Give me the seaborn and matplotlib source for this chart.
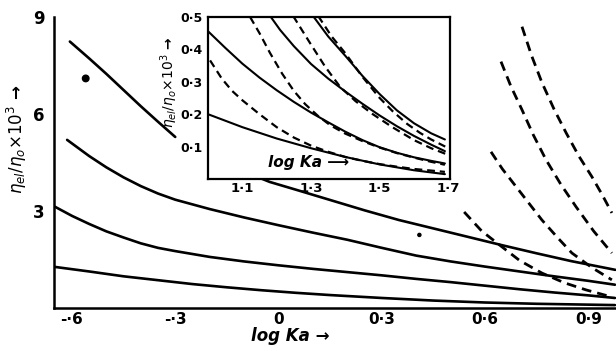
import numpy as np
import pandas as pd
import matplotlib
matplotlib.use('Agg')
import matplotlib.pyplot as plt
import seaborn as sns

sns.set_style('white')
plt.rcParams['font.family'] = ['DejaVu Sans']
plt.rcParams['mathtext.fontset'] = 'dejavusans'
for k in ['text.color', 'axes.labelcolor', 'xtick.color', 'ytick.color']:
    plt.rcParams[k] = 'black'

# ---- main panel: solid curves ----
# top curve is broken where the inset label sits
c1a_x = [-0.606, -0.55, -0.50, -0.45, -0.40, -0.35, -0.30]
c1a_y = [8.24, 7.72, 7.24, 6.74, 6.24, 5.76, 5.29]
c1b_x = [-0.10, -0.026, 0.05, 0.15, 0.25, 0.35, 0.45, 0.55, 0.65, 0.75, 0.85, 0.978]
c1b_y = [4.22, 3.90, 3.66, 3.34, 3.02, 2.72, 2.46, 2.20, 1.94, 1.69, 1.45, 1.18]
c2_x = [-0.614, -0.55, -0.50, -0.45, -0.40, -0.35, -0.30, -0.20, -0.10, 0.0, 0.10,
        0.20, 0.30, 0.40, 0.50, 0.60, 0.70, 0.80, 0.90, 0.977]
c2_y = [5.20, 4.70, 4.35, 4.04, 3.77, 3.54, 3.35, 3.06, 2.80, 2.56, 2.33,
        2.11, 1.86, 1.62, 1.44, 1.28, 1.13, 0.98, 0.84, 0.72]
c3_x = [-0.649, -0.60, -0.55, -0.50, -0.45, -0.40, -0.35, -0.30, -0.20, -0.10, 0.0,
        0.10, 0.20, 0.30, 0.40, 0.50, 0.60, 0.70, 0.80, 0.90, 0.977]
c3_y = [3.13, 2.85, 2.60, 2.37, 2.18, 2.00, 1.86, 1.76, 1.58, 1.44, 1.32,
        1.21, 1.11, 1.01, 0.90, 0.80, 0.69, 0.58, 0.48, 0.39, 0.31]
c4_x = [-0.649, -0.55, -0.45, -0.35, -0.25, -0.15, -0.05, 0.05, 0.15, 0.30, 0.45,
        0.60, 0.75, 0.977]
c4_y = [1.27, 1.13, 0.98, 0.86, 0.74, 0.64, 0.55, 0.47, 0.40, 0.31, 0.23,
        0.17, 0.13, 0.09]

# ---- main panel: dashed curves ----
d1_x = [0.539, 0.59, 0.649, 0.70, 0.765, 0.83, 0.893, 0.968]
d1_y = [2.97, 2.38, 1.89, 1.47, 1.08, 0.78, 0.56, 0.34]
d2_x = [0.617, 0.65, 0.69, 0.73, 0.765, 0.81, 0.852, 0.91, 0.968]
d2_y = [4.83, 4.30, 3.75, 3.20, 2.72, 2.18, 1.70, 1.25, 0.87]
d3_x = [0.646, 0.675, 0.707, 0.74, 0.777, 0.82, 0.864, 0.915, 0.968]
d3_y = [7.62, 6.85, 6.13, 5.35, 4.58, 3.82, 3.13, 2.38, 1.70]
d4_x = [0.707, 0.735, 0.765, 0.80, 0.835, 0.872, 0.91, 0.94, 0.968]
d4_y = [8.70, 7.80, 6.97, 6.15, 5.42, 4.70, 4.06, 3.50, 2.94]

dots_x = [-0.56, 0.409]
dots_y = [7.1, 2.26]

# ---- inset: solid curves ----
is1_x = [1.0, 1.1, 1.2, 1.3, 1.4, 1.5, 1.6, 1.69]
is1_y = [0.20, 0.16, 0.125, 0.095, 0.068, 0.045, 0.027, 0.015]
is2_x = [1.0, 1.05, 1.1, 1.15, 1.2, 1.25, 1.3, 1.35, 1.4, 1.45, 1.5, 1.55, 1.6, 1.65, 1.69]
is2_y = [0.456, 0.405, 0.356, 0.313, 0.274, 0.238, 0.205, 0.175, 0.146, 0.12, 0.098,
         0.081, 0.067, 0.056, 0.048]
is3_x = [1.181, 1.21, 1.25, 1.3, 1.35, 1.4, 1.45, 1.5, 1.55, 1.6, 1.65, 1.69]
is3_y = [0.503, 0.46, 0.41, 0.355, 0.31, 0.27, 0.232, 0.196, 0.163, 0.133, 0.106, 0.086]
is4_x = [1.306, 1.35, 1.4, 1.45, 1.5, 1.55, 1.6, 1.65, 1.69]
is4_y = [0.503, 0.44, 0.38, 0.318, 0.262, 0.212, 0.172, 0.141, 0.122]

# ---- inset: dashed curves ----
id1_x = [1.006, 1.04, 1.07, 1.1, 1.15, 1.2, 1.25, 1.3, 1.35, 1.4, 1.45, 1.5, 1.55, 1.6, 1.69]
id1_y = [0.366, 0.31, 0.272, 0.243, 0.20, 0.16, 0.128, 0.103, 0.084, 0.068, 0.056,
         0.046, 0.038, 0.031, 0.022]
id2_x = [1.1225, 1.15, 1.18, 1.216, 1.25, 1.283, 1.32, 1.356, 1.4, 1.45, 1.5, 1.55,
         1.6, 1.65, 1.69]
id2_y = [0.50, 0.45, 0.39, 0.325, 0.272, 0.231, 0.195, 0.166, 0.14, 0.117, 0.097,
         0.08, 0.066, 0.053, 0.044]
id3_x = [1.248, 1.2975, 1.341, 1.385, 1.43, 1.48, 1.537, 1.6, 1.65, 1.691]
id3_y = [0.503, 0.419, 0.347, 0.284, 0.24, 0.20, 0.16, 0.12, 0.095, 0.078]
id4_x = [1.321, 1.36, 1.4, 1.45, 1.5, 1.537, 1.58, 1.618, 1.65, 1.691]
id4_y = [0.503, 0.44, 0.388, 0.315, 0.25, 0.21, 0.17, 0.142, 0.122, 0.10]

main_xticks = [-0.6, -0.3, 0, 0.3, 0.6, 0.9]
main_xlabels = ['-·6', '-·3', '0', '0·3', '0·6', '0·9']
main_yticks = [3, 6, 9]
main_ylabels = ['3', '6', '9']
ins_xticks = [1.1, 1.3, 1.5, 1.7]
ins_xlabels = ['1·1', '1·3', '1·5', '1·7']
ins_yticks = [0.1, 0.2, 0.3, 0.4, 0.5]
ins_ylabels = ['0·1', '0·2', '0·3', '0·4', '0·5']

dash = (0, (3.5, 2.2))

fig = plt.figure(figsize=(6.16, 3.51), dpi=100)
ax = fig.add_axes([0.0877, 0.1225, 0.9123, 0.8291])

solid_main = [(c1a_x, c1a_y), (c1b_x, c1b_y), (c2_x, c2_y), (c3_x, c3_y), (c4_x, c4_y)]
dashed_main = [(d1_x, d1_y), (d2_x, d2_y), (d3_x, d3_y), (d4_x, d4_y)]
for xs, ys in solid_main:
    sns.lineplot(x=xs, y=ys, ax=ax, color='black', lw=1.9, sort=False, estimator=None)
for xs, ys in dashed_main:
    sns.lineplot(x=xs, y=ys, ax=ax, color='black', lw=2.0, sort=False,
                 estimator=None, linestyle=dash)
ax.scatter(dots_x, dots_y, s=[22, 5], color='black', zorder=3)

ax.set_xlim(-0.652, 0.98)
ax.set_ylim(0, 9)
ax.set_xticks(main_xticks)
ax.set_xticklabels(main_xlabels, fontsize=11, fontweight='bold')
ax.set_yticks(main_yticks)
ax.set_yticklabels(main_ylabels, fontsize=12, fontweight='bold')
ax.tick_params(axis='x', direction='in', length=6, width=1.5, pad=3)
ax.tick_params(axis='y', direction='out', length=5, width=1.5, pad=2)
for s in ['top', 'right']:
    ax.spines[s].set_visible(False)
for s in ['left', 'bottom']:
    ax.spines[s].set_linewidth(1.8)
    ax.spines[s].set_color('black')
ax.set_xlabel('log Ka →', fontsize=12, fontstyle='italic', fontweight='bold')
ax.xaxis.set_label_coords(0.42, -0.065)
ax.set_ylabel(r'$\eta_{el}/\eta_o{\times}10^3$ →', fontsize=12, fontweight='bold')
ax.yaxis.set_label_coords(-0.045, 0.58)

# ---- inset ----
ins = fig.add_axes([0.3377, 0.49, 0.3929, 0.4616])
ins.set_facecolor('white')
solid_ins = [(is1_x, is1_y), (is2_x, is2_y), (is3_x, is3_y), (is4_x, is4_y)]
dashed_ins = [(id1_x, id1_y), (id2_x, id2_y), (id3_x, id3_y), (id4_x, id4_y)]
for xs, ys in solid_ins:
    sns.lineplot(x=xs, y=ys, ax=ins, color='black', lw=1.5, sort=False, estimator=None)
for xs, ys in dashed_ins:
    sns.lineplot(x=xs, y=ys, ax=ins, color='black', lw=1.6, sort=False,
                 estimator=None, linestyle=dash)
ins.set_xlim(1.0, 1.705)
ins.set_ylim(0, 0.5)
ins.set_xticks(ins_xticks)
ins.set_xticklabels(ins_xlabels, fontsize=9.5, fontweight='bold')
ins.set_yticks(ins_yticks)
ins.set_yticklabels(ins_ylabels, fontsize=9, fontweight='bold')
ins.tick_params(axis='x', direction='in', length=5, width=1.3, pad=2)
ins.tick_params(axis='y', direction='out', length=3, width=1.3, pad=1)
for s in ins.spines.values():
    s.set_linewidth(1.6)
    s.set_color('black')
ins.set_ylabel(r'$\eta_{el}/\eta_o{\times}10^3$ →', fontsize=10, fontweight='bold')
ins.yaxis.set_label_coords(-0.115, 0.6)
ins.text(1.175, 0.05, 'log Ka ⟶', fontsize=11, fontstyle='italic',
         fontweight='bold', va='center', ha='left')

fig.savefig('out.png', dpi=100)
